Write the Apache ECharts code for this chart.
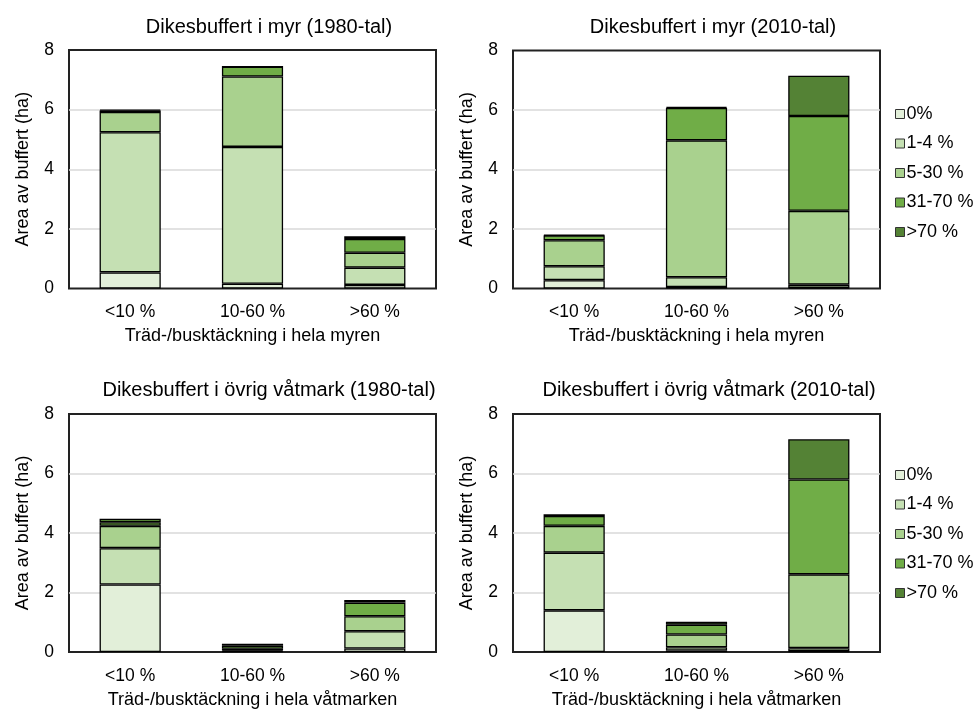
<!DOCTYPE html>
<html>
<head>
<meta charset="utf-8">
<script src="https://cdn.jsdelivr.net/npm/echarts@6/dist/echarts.min.js"></script>
<style>
  html, body { margin: 0; padding: 0; background: #fff; }
  #chart { width: 976px; height: 710px; }
</style>
</head>
<body>
<div id="chart"></div>
<script>
// Tree/shrub cover classes of the whole wetland (x categories)
const categories = ['<10 %', '10-60 %', '>60 %'];
// Cover classes inside the ditch buffer (stacked segments)
const classNames = ['0%', '1-4 %', '5-30 %', '31-70 %', '>70 %'];
const classColors = ['#e2efd9', '#c5e0b3', '#a9d18e', '#70ad47', '#548235'];
const yTicks = [0, 2, 4, 6, 8];

// Dikesbuffert i myr (1980-tal), area in ha per class
const myr1980_0 = [0.54, 0.16, 0.12];
const myr1980_1 = [4.70, 4.59, 0.58];
const myr1980_2 = [0.68, 2.36, 0.50];
const myr1980_3 = [0.05, 0.33, 0.46];
const myr1980_4 = [0.03, 0.00, 0.09];

// Dikesbuffert i myr (2010-tal)
const myr2010_0 = [0.28, 0.05, 0.02];
const myr2010_1 = [0.47, 0.33, 0.11];
const myr2010_2 = [0.87, 4.60, 2.48];
const myr2010_3 = [0.16, 1.09, 3.19];
const myr2010_4 = [0.02, 0.03, 1.35];

// Dikesbuffert i övrig våtmark (1980-tal)
const ovr1980_0 = [2.27, 0.02, 0.12];
const ovr1980_1 = [1.22, 0.03, 0.58];
const ovr1980_2 = [0.75, 0.06, 0.50];
const ovr1980_3 = [0.12, 0.10, 0.46];
const ovr1980_4 = [0.12, 0.07, 0.09];

// Dikesbuffert i övrig våtmark (2010-tal)
const ovr2010_0 = [1.40, 0.05, 0.02];
const ovr2010_1 = [1.94, 0.11, 0.11];
const ovr2010_2 = [0.90, 0.43, 2.48];
const ovr2010_3 = [0.33, 0.33, 3.19];
const ovr2010_4 = [0.06, 0.10, 1.35];

const panels = [
  { title: 'Dikesbuffert i myr (1980-tal)', xName: 'Träd-/busktäckning i hela myren',
    data: [myr1980_0, myr1980_1, myr1980_2, myr1980_3, myr1980_4] },
  { title: 'Dikesbuffert i myr (2010-tal)', xName: 'Träd-/busktäckning i hela myren',
    data: [myr2010_0, myr2010_1, myr2010_2, myr2010_3, myr2010_4] },
  { title: 'Dikesbuffert i övrig våtmark (1980-tal)', xName: 'Träd-/busktäckning i hela våtmarken',
    data: [ovr1980_0, ovr1980_1, ovr1980_2, ovr1980_3, ovr1980_4] },
  { title: 'Dikesbuffert i övrig våtmark (2010-tal)', xName: 'Träd-/busktäckning i hela våtmarken',
    data: [ovr2010_0, ovr2010_1, ovr2010_2, ovr2010_3, ovr2010_4] }
];

const FONT = '"Liberation Sans", Arial, sans-serif';
const TXT = '#000';

// plot-area boxes: left/top/width/height in px
const boxes = [
  { left: 69,  top: 50,  width: 367, height: 238.5 },
  { left: 513, top: 50.5, width: 367, height: 238 },
  { left: 69,  top: 414, width: 367, height: 238.3 },
  { left: 513, top: 414, width: 367, height: 238.3 }
];
const titlePos = [
  { x: 264, y: 12 }, { x: 708, y: 12 }, { x: 264, y: 375 }, { x: 704, y: 375 }
];

const grid = [], xAxis = [], yAxis = [], series = [], title = [];
panels.forEach((p, i) => {
  const b = boxes[i];
  grid.push({ left: b.left, top: b.top, width: b.width, height: b.height,
    show: true, borderColor: '#222', borderWidth: 2, backgroundColor: 'transparent' });
  title.push({ text: p.title, left: titlePos[i].x, top: titlePos[i].y, textAlign: 'center',
    textStyle: { fontFamily: FONT, fontSize: 20, fontWeight: 'normal', color: TXT } });
  xAxis.push({
    type: 'category', gridIndex: i, data: categories,
    name: p.xName, nameLocation: 'middle', nameGap: 39,
    nameTextStyle: { fontFamily: FONT, fontSize: 18, color: TXT },
    axisLine: { show: false }, axisTick: { show: false },
    axisLabel: { fontFamily: FONT, fontSize: 17.5, color: TXT, margin: 15 }
  });
  yAxis.push({
    type: 'value', gridIndex: i, min: yTicks[0], max: yTicks[yTicks.length - 1], interval: 2,
    name: 'Area av buffert (ha)', nameLocation: 'middle', nameGap: 37,
    nameTextStyle: { fontFamily: FONT, fontSize: 18, color: TXT },
    axisLine: { show: false }, axisTick: { show: false },
    axisLabel: { fontFamily: FONT, fontSize: 17.5, color: TXT, margin: 15 },
    splitLine: { showMinLine: false, showMaxLine: false, lineStyle: { color: '#d9d9d9', width: 1.5 } }
  });
  p.data.forEach((vals, k) => {
    series.push({
      type: 'bar', name: classNames[k], xAxisIndex: i, yAxisIndex: i,
      stack: 'panel' + i, barWidth: '50%', data: vals,
      itemStyle: { color: classColors[k], borderColor: '#000', borderWidth: 1.3 },
      emphasis: { disabled: true }, animation: false
    });
  });
});

const legendBase = {
  orient: 'vertical', left: 890, itemWidth: 9, itemHeight: 9, itemGap: 11.5,
  icon: 'rect', data: classNames,
  itemStyle: { borderColor: '#333', borderWidth: 1 },
  textStyle: { fontFamily: FONT, fontSize: 18, color: TXT, lineHeight: 18, padding: [0, 0, 0, -3] }
};

const chart = echarts.init(document.getElementById('chart'), null, { renderer: 'canvas' });
chart.setOption({
  animation: false,
  backgroundColor: '#fff',
  title: title,
  legend: [
    Object.assign({}, legendBase, { top: 100 }),
    Object.assign({}, legendBase, { top: 461 })
  ],
  grid: grid,
  xAxis: xAxis,
  yAxis: yAxis,
  series: series
});
</script>
</body>
</html>
